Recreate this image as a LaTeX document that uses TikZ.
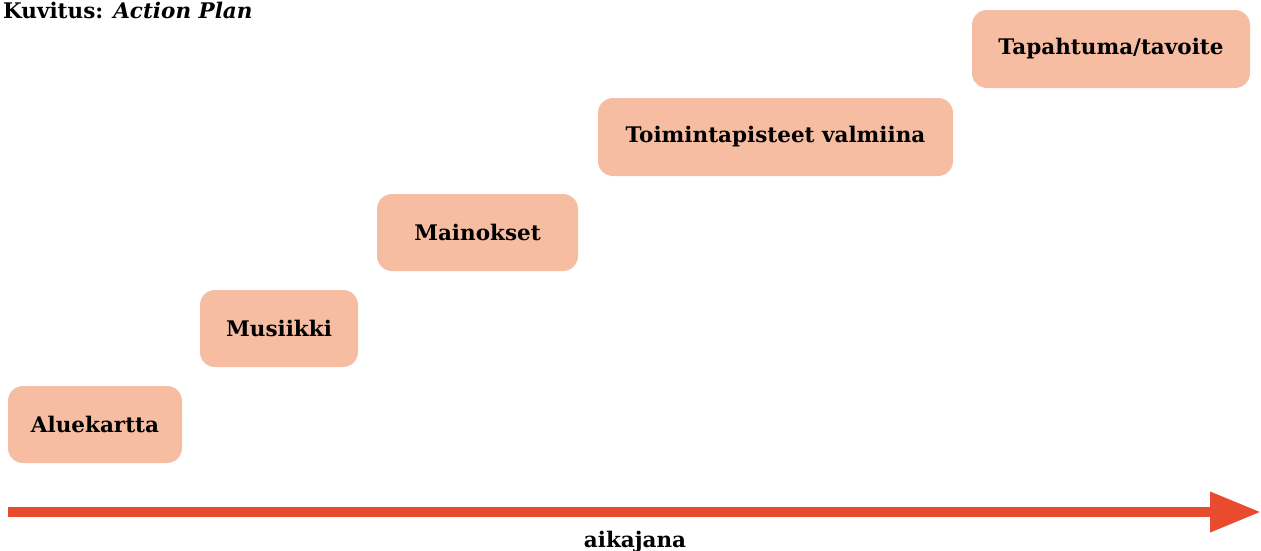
\documentclass[tikz,border=0pt]{standalone}
\usepackage{fontspec}
\setmainfont{DejaVu Serif}
\usetikzlibrary{arrows.meta}
\definecolor{boxfill}{HTML}{F6BDA2}
\definecolor{arrowred}{HTML}{E84B2E}
\begin{document}
\begin{tikzpicture}[x=1pt,y=-1pt,
  stepbox/.style={fill=boxfill, rounded corners=15pt, inner sep=0pt, minimum height=77pt,
    font=\bfseries\fontsize{21.5}{24}\selectfont},
  lbl/.style={font=\bfseries\fontsize{21.5}{24}\selectfont, inner sep=0pt}]
\useasboundingbox (0,0) rectangle (1261,550);
\node[lbl, anchor=base west] (title) at (3,18) {Kuvitus: \itshape Action Plan};
\node[stepbox, minimum width=174pt] (s1) at (95,424.5) {Aluekartta};
\node[stepbox, minimum width=158pt] (s2) at (279,328.5) {Musiikki};
\node[stepbox, minimum width=201pt] (s3) at (477.5,232.5) {Mainokset};
\node[stepbox, minimum width=355pt, minimum height=78pt] (s4) at (775.5,137) {Toimintapisteet valmiina};
\node[stepbox, minimum width=278pt, minimum height=78pt] (s5) at (1111,49) {Tapahtuma/tavoite};
\coordinate (tstart) at (8,512);
\coordinate (tend) at (1261,512);
\draw[arrowred, line width=10pt, -{Triangle[length=51pt,width=38pt]}] (tstart) -- (tend);
\node[lbl, anchor=base] (axis) at (635,547) {aikajana};
\end{tikzpicture}
\end{document}
